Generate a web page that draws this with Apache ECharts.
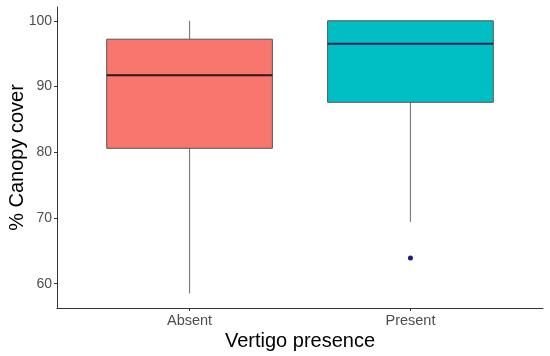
<!DOCTYPE html>
<html>
<head>
<meta charset="utf-8">
<script src="https://cdn.jsdelivr.net/npm/echarts@6/dist/echarts.min.js"></script>
<style>html,body{margin:0;padding:0;background:#fff}#c{width:550px;height:356px}</style>
</head>
<body>
<div id="c"></div>
<script>
var categories = ['Absent', 'Present'];
var whiskerLow = [58.5, 69.4];
var q1 = [80.6, 87.6];
var median = [91.7, 96.5];
var q3 = [97.2, 100];
var whiskerHigh = [100, 100];
var outliers = [[2, 63.9]];
var yTicks = [60, 70, 80, 90, 100];
var fills = ['#F8766D', '#00BFC4'];
var medianColors = ['#2a1a1a', '#2c2150'];

var boxData = categories.map(function (c, i) {
  return [i + 1, whiskerLow[i], q1[i], median[i], q3[i], whiskerHigh[i]];
});

var chart = echarts.init(document.getElementById('c'), null, {renderer: 'canvas'});
var font = 'Liberation Sans, Arial, sans-serif';
chart.setOption({
  animation: false,
  grid: {left: 57, right: 7, top: 7, bottom: 48, containLabel: false, outerBoundsMode: 'none'},
  xAxis: {
    type: 'value', min: 0.4, max: 2.6,
    name: 'Vertigo presence', nameLocation: 'middle', nameGap: 23, nameMoveOverlap: false,
    nameTextStyle: {fontFamily: font, fontSize: 20, color: '#000'},
    axisLine: {show: true, lineStyle: {color: '#333', width: 1}},
    axisTick: {show: true, length: 3, customValues: [1, 2], lineStyle: {color: '#333'}},
    axisLabel: {customValues: [1, 2], fontFamily: font, fontSize: 14.5, color: '#4d4d4d', margin: 5,
      formatter: function (v) { return categories[Math.round(v) - 1] || ''; }},
    splitLine: {show: false}
  },
  yAxis: {
    type: 'value', min: 56.3, max: 102.1,
    name: '% Canopy cover', nameLocation: 'middle', nameGap: 30, nameRotate: 90, nameMoveOverlap: false,
    nameTextStyle: {fontFamily: font, fontSize: 20, color: '#000'},
    axisLine: {show: true, lineStyle: {color: '#333', width: 1}},
    axisTick: {show: true, length: 3, customValues: yTicks, lineStyle: {color: '#333'}},
    axisLabel: {customValues: yTicks, fontFamily: font, fontSize: 14, color: '#4d4d4d', margin: 5},
    splitLine: {show: false}
  },
  series: [
    {
      type: 'custom',
      data: boxData,
      renderItem: function (params, api) {
        var i = params.dataIndex;
        var x = api.value(0);
        var half = api.size([0.375, 0])[0];
        var pLow = api.coord([x, api.value(1)]);
        var pQ1 = api.coord([x, api.value(2)]);
        var pMed = api.coord([x, api.value(3)]);
        var pQ3 = api.coord([x, api.value(4)]);
        var pHigh = api.coord([x, api.value(5)]);
        var cx = pQ1[0];
        return {
          type: 'group',
          children: [
            {type: 'line', shape: {x1: cx, y1: pLow[1], x2: cx, y2: pQ1[1]}, style: {stroke: '#7f7f7f', lineWidth: 1.2}},
            {type: 'line', shape: {x1: cx, y1: pQ3[1], x2: cx, y2: pHigh[1]}, style: {stroke: '#7f7f7f', lineWidth: 1.2}},
            {type: 'rect', shape: {x: cx - half, y: pQ3[1], width: half * 2, height: pQ1[1] - pQ3[1]},
              style: {fill: fills[i], stroke: '#555', lineWidth: 1}},
            {type: 'line', shape: {x1: cx - half, y1: pMed[1], x2: cx + half, y2: pMed[1]},
              style: {stroke: medianColors[i], lineWidth: 2}}
          ]
        };
      }
    },
    {
      type: 'scatter',
      data: outliers,
      symbol: 'circle', symbolSize: 5,
      itemStyle: {color: '#1a1a8c', opacity: 1}
    }
  ]
});
</script>
</body>
</html>
